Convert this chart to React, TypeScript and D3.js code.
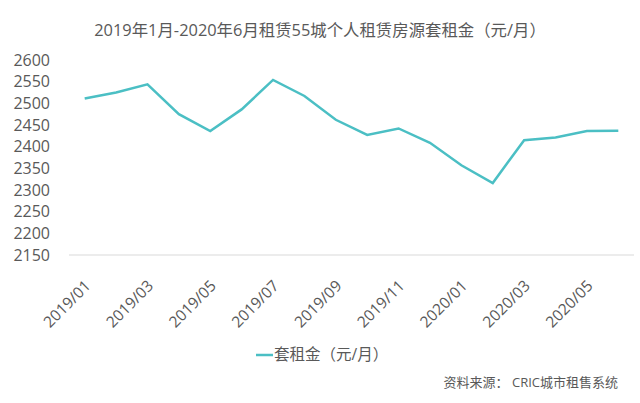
import React from "react";
import * as d3 from "d3";

const months = [
  "2019/01","2019/02","2019/03","2019/04","2019/05","2019/06","2019/07","2019/08","2019/09",
  "2019/10","2019/11","2019/12","2020/01","2020/02","2020/03","2020/04","2020/05","2020/06",
];
const rent = [2511, 2525, 2544, 2475, 2436, 2486, 2554, 2517, 2462, 2427, 2442, 2409, 2357, 2316, 2415, 2421, 2436, 2437];
const yTicks = [2150, 2200, 2250, 2300, 2350, 2400, 2450, 2500, 2550, 2600];
const xTickLabels = ["2019/01","2019/03","2019/05","2019/07","2019/09","2019/11","2020/01","2020/03","2020/05"];
const title = "2019年1月-2020年6月租赁55城个人租赁房源套租金（元/月）";
const seriesName = "套租金（元/月）";
const source = "资料来源： CRIC城市租售系统";

const W = 640, H = 403;
const FONT = "'Open Sans', 'Noto Sans CJK SC', sans-serif";
const COLOR = "#4BBFC4";
const TEXT = "#595959";

export default function App() {
  const x = d3.scaleBand<string>().domain(months).range([69, 634]);
  const y = d3.scaleLinear().domain([2150, 2600]).range([255, 60]);
  const cx = (m: string) => (x(m) as number) + x.bandwidth() / 2;
  const line = d3.line<number>()
    .x((_, i) => cx(months[i]))
    .y((d) => y(d));

  return (
    <svg width={W} height={H} style={{ position: "absolute", left: 0, top: 0, background: "#fff" }} fontFamily={FONT}>
      <text x={320} y={36} textAnchor="middle" fontSize={16.4} fill={TEXT}>{title}</text>
      {yTicks.map((t) => (
        <text key={t} x={50} y={y(t)} dy="0.35em" textAnchor="end" fontSize={16} fill={TEXT}>{t}</text>
      ))}
      <line x1={69} x2={634} y1={y(2150)} y2={y(2150)} stroke="#d9d9d9" strokeWidth={1} />
      {xTickLabels.map((m) => (
        <text key={m} transform={`translate(${cx(m) + 3},${283}) rotate(-45)`} dy="0.35em" textAnchor="end" fontSize={15.5} fill={TEXT}>{m}</text>
      ))}
      <path d={line(rent) as string} fill="none" stroke={COLOR} strokeWidth={2.5} strokeLinejoin="miter" />
      <line x1={256} x2={273} y1={355} y2={355} stroke={COLOR} strokeWidth={2.5} />
      <text x={274} y={355} dy="0.35em" fontSize={15.5} fill={TEXT}>{seriesName}</text>
      <text x={618} y={382} dy="0.35em" textAnchor="end" fontSize={13} fill={TEXT}>{source}</text>
    </svg>
  );
}
